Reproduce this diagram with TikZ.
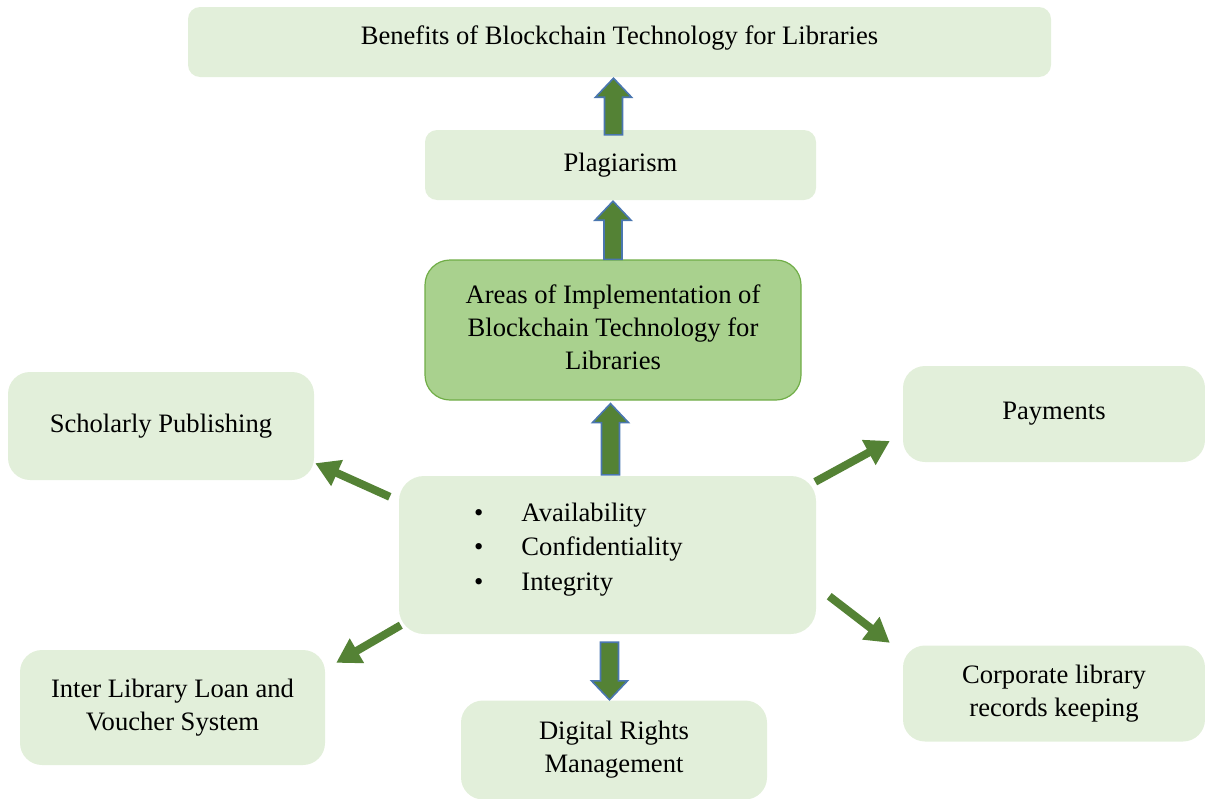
\documentclass[tikz,border=0pt]{standalone}
\usepackage{fontspec}
\setmainfont{Liberation Serif}
\usetikzlibrary{arrows.meta,calc}
\definecolor{lightbox}{HTML}{E2EFDA}
\definecolor{midbox}{HTML}{A9D18E}
\definecolor{midedge}{HTML}{70AD47}
\definecolor{arrowgreen}{HTML}{548235}
\definecolor{arrowblue}{HTML}{4A76B0}
\newcommand{\blockup}[2]{\draw[blockarrow] let \p1=#1, \p2=#2 in
  (\x1-9pt,\y1) -- (\x1-9pt,\y2-19pt) -- (\x1-18pt,\y2-19pt) -- (\x1,\y2) --
  (\x1+18pt,\y2-19pt) -- (\x1+9pt,\y2-19pt) -- (\x1+9pt,\y1) -- cycle;}
\newcommand{\blockdown}[2]{\draw[blockarrow] let \p1=#1, \p2=#2 in
  (\x1-9pt,\y1) -- (\x1-9pt,\y2+19pt) -- (\x1-18pt,\y2+19pt) -- (\x1,\y2) --
  (\x1+18pt,\y2+19pt) -- (\x1+9pt,\y2+19pt) -- (\x1+9pt,\y1) -- cycle;}
\begin{document}
\begin{tikzpicture}[x=1pt,y=-1pt,
  txt/.style={font=\fontsize{26.6}{33}\selectfont},
  box/.style={txt, fill=lightbox, draw=none, rounded corners=12pt, align=center, inner sep=0pt},
  bigbox/.style={box, rounded corners=22pt},
  midnode/.style={txt, fill=midbox, draw=midedge, line width=1.2pt, rounded corners=25pt, align=center, inner sep=0pt},
  blockarrow/.style={fill=arrowgreen, draw=arrowblue, line width=1.6pt, line join=miter},
  slant/.style={draw=arrowgreen, line width=8pt, -{Triangle[length=24pt,width=27pt]}}]
\useasboundingbox (0,0) rectangle (1205,798);

\node[box, minimum width=863pt, minimum height=70pt] (ben) at (619.5,42) {\raisebox{4pt}[\height][\depth]{Benefits of Blockchain Technology for Libraries}};
\node[box, minimum width=391pt, minimum height=70pt] (plag) at (620.5,165) {Plagiarism};
\node[midnode, minimum width=376pt, minimum height=140pt] (areas) at (613,330) {\raisebox{2pt}{\begin{tabular}{@{}c@{}}Areas of Implementation of\\Blockchain Technology for\\Libraries\end{tabular}}};
\node[bigbox, minimum width=306pt, minimum height=108pt] (schol) at (161,426) {Scholarly Publishing};
\node[bigbox, minimum width=302pt, minimum height=96pt] (pay) at (1054,414) {Payments};
\node[bigbox, rounded corners=25pt, minimum width=417pt, minimum height=158pt] (bul) at (607.5,555) {};
\node[font=\fontsize{26.6}{34.5}\selectfont, anchor=west, inner sep=0pt] (bultext) at (474,549)
  {\begin{tabular}{@{}l@{\hspace{38pt}}l@{}}\textbullet & Availability\\ \textbullet & Confidentiality\\ \textbullet & Integrity\end{tabular}};
\node[bigbox, minimum width=305pt, minimum height=115pt] (inter) at (172.5,707.5) {Inter Library Loan and\\Voucher System};
\node[bigbox, minimum width=306pt, minimum height=99pt] (dig) at (614,750) {Digital Rights\\Management};
\node[bigbox, minimum width=302pt, minimum height=96pt] (corp) at (1054,693.5) {Corporate library\\records keeping};

\coordinate (a1s) at ($(plag.north)+(-7,5)$);
\coordinate (a1e) at ($(ben.south)+(-7,1)$);
\coordinate (a2s) at ($(areas.north)+(0,0)$);
\coordinate (a2e) at ($(plag.south)+(-7,1)$);
\coordinate (a3s) at ($(bul.north)+(3,-1)$);
\coordinate (a3e) at ($(areas.south)+(-3,3)$);
\coordinate (a4s) at ($(bul.south)+(2,8)$);
\coordinate (a4e) at ($(dig.north)+(-5,-0.5)$);
\blockup{(a1s)}{(a1e)}
\blockup{(a2s)}{(a2e)}
\blockup{(a3s)}{(a3e)}
\blockdown{(a4s)}{(a4e)}

\coordinate (s1s) at ($(bul.north west)+(-9,21)$);
\coordinate (s1e) at ($(schol.south east)+(1,-17)$);
\coordinate (s2s) at ($(bul.north east)+(-1,6)$);
\coordinate (s2e) at ($(pay.west)+(-13,27)$);
\coordinate (s3s) at ($(bul.south east)+(13,-38)$);
\coordinate (s3e) at ($(corp.north west)+(-13,-2.5)$);
\coordinate (s4s) at ($(bul.south west)+(2,-9)$);
\coordinate (s4e) at ($(inter.north east)+(11,13)$);
\draw[slant] (s1s) -- (s1e);
\draw[slant] (s2s) -- (s2e);
\draw[slant] (s3s) -- (s3e);
\draw[slant] (s4s) -- (s4e);
\end{tikzpicture}
\end{document}
